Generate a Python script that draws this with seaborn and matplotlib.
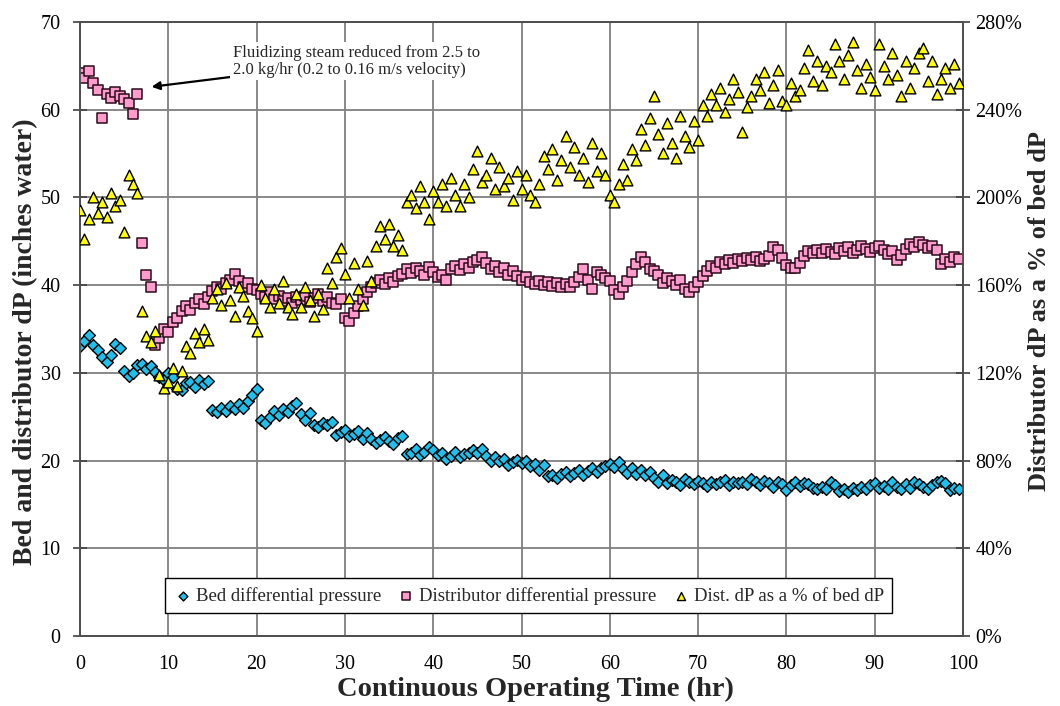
import numpy as np
import pandas as pd
import matplotlib
matplotlib.use("Agg")
import matplotlib.pyplot as plt
import seaborn as sns
from matplotlib.ticker import FuncFormatter

# ---------------- data ----------------
hours = np.arange(0, 100, 0.5)  # sampling times, hr

bed_dp = [
    33.0, 33.6, 34.3, 33.2, 32.6, 31.8, 31.2, 32.0, 33.3, 32.8,
    30.2, 29.6, 30.0, 30.9, 31.0, 30.4, 30.8, 30.1, 29.5, 29.2,
    30.0, 29.5, 28.2, 28.0, 28.8, 29.0, 28.4, 29.2, 28.7, 29.1,
    25.8, 25.5, 26.0, 25.6, 26.2, 25.9, 26.4, 26.0, 26.8, 27.5,
    28.1, 24.6, 24.3, 25.0, 25.6, 25.2, 25.9, 25.5, 26.2, 26.5,
    25.3, 24.6, 25.4, 24.0, 23.8, 24.3, 24.0, 24.4, 22.9, 23.3,
    23.5, 22.8, 23.0, 23.4, 22.5, 23.1, 22.4, 22.0, 22.3, 22.7,
    22.2, 21.9, 22.6, 22.8, 20.7, 20.9, 21.3, 20.6, 21.0, 21.5,
    21.2, 20.6, 20.9, 20.2, 20.5, 21.0, 20.4, 20.7, 20.9, 21.2,
    20.8, 21.3, 20.5, 20.0, 20.4, 19.9, 20.2, 19.5, 19.8, 20.1,
    19.7, 20.0, 19.4, 19.6, 18.9, 19.5, 18.2, 18.4, 18.0, 18.5,
    18.7, 18.2, 18.6, 18.9, 18.3, 18.8, 19.2, 18.7, 19.1, 19.4,
    19.6, 19.3, 19.8, 19.0, 18.6, 19.2, 18.5, 18.9, 18.3, 18.7,
    18.0, 17.6, 18.4, 17.4, 17.8, 17.5, 17.2, 17.9, 17.6, 17.3,
    17.7, 17.4, 17.1, 17.6, 17.3, 17.5, 17.8, 17.2, 17.5, 17.4,
    17.6, 17.3, 17.9, 17.5, 17.2, 17.7, 17.4, 17.0, 17.6, 17.3,
    16.6, 17.2, 17.5, 17.1, 17.4, 17.3, 16.9, 16.7, 17.0, 16.8,
    17.5, 17.2, 16.5, 16.8, 16.4, 16.9, 16.6, 17.0, 16.7, 17.2,
    17.4, 16.9, 17.1, 16.8, 17.5, 17.0, 16.7, 17.3, 16.9, 17.6,
    17.3, 17.0, 16.8, 17.2, 17.5, 17.7, 17.4, 16.6, 16.9, 16.8,
]

dist_dp = [
    64.2, 63.6, 64.4, 63.0, 62.2, 59.0, 61.8, 61.3, 62.0, 61.5,
    61.2, 60.8, 59.5, 61.8, 44.8, 41.2, 39.8, 33.2, 34.0, 35.0,
    34.6, 35.8, 36.3, 37.0, 37.6, 37.2, 38.0, 38.4, 37.8, 38.6,
    39.3, 39.8, 39.5, 40.2, 40.6, 41.3, 40.5, 39.8, 40.2, 39.6,
    39.4, 39.0, 38.6, 39.2, 38.4, 38.8, 38.2, 38.5, 38.0, 38.6,
    38.3, 38.8, 38.1, 38.5, 39.0, 38.2, 38.6, 38.0, 37.8, 38.4,
    36.3, 35.9, 36.8, 37.6, 38.4, 39.2, 39.8, 40.2, 40.6, 40.1,
    40.8, 40.4, 41.0, 41.3, 41.8, 41.4, 42.0, 41.6, 41.2, 42.1,
    41.5, 40.9, 41.2, 40.6, 41.8, 42.2, 41.7, 42.4, 42.0, 42.6,
    42.8, 43.2, 42.5, 41.8, 42.2, 41.5, 41.9, 41.2, 41.6, 41.0,
    40.6, 40.9, 40.3, 40.1, 40.5, 40.0, 40.3, 39.9, 40.2, 39.8,
    40.1, 39.8, 40.4, 40.9, 41.8, 40.6, 39.6, 41.5, 41.2, 40.8,
    40.5, 39.4, 39.0, 39.8, 40.5, 41.5, 42.4, 43.2, 42.6, 41.8,
    41.6, 41.2, 40.2, 40.8, 40.5, 40.0, 40.6, 39.6, 39.2, 39.8,
    40.4, 41.0, 41.6, 42.2, 42.0, 42.6, 42.4, 42.9, 42.5, 43.0,
    42.7, 43.1, 42.8, 43.2, 42.7, 43.0, 43.3, 44.3, 44.0, 43.1,
    42.3, 41.9, 42.0, 42.5, 43.3, 43.9, 43.6, 44.0, 43.7, 44.1,
    43.8, 43.5, 44.2, 43.9, 44.3, 43.6, 44.0, 44.4, 44.1, 43.8,
    44.2, 44.5, 44.0, 43.5, 43.9, 42.8, 43.4, 44.1, 44.7, 44.3,
    44.9, 44.6, 44.2, 44.5, 44.0, 42.4, 43.0, 42.6, 43.2, 43.0,
]

dist_pct = [
    194, 181, 190, 200, 193, 198, 191, 202, 196, 199,
    184, 210, 206, 202, 148, 137, 134, 139, 119, 113,
    116, 122, 114, 121, 132, 129, 138, 134, 140, 135,
    154, 158, 151, 161, 153, 146, 159, 155, 148, 145,
    139, 160, 154, 150, 158, 152, 162, 150, 147, 156,
    150, 159, 153, 146, 156, 149, 168, 161, 173, 177,
    165, 154, 170, 158, 151, 171, 162, 178, 187, 181,
    188, 178, 183, 176, 198, 201, 195, 205, 198, 190,
    203, 198, 206, 196, 209, 201, 196, 206, 200, 213,
    221, 207, 210, 218, 204, 214, 205, 209, 199, 212,
    204, 210, 201, 198, 206, 219, 213, 222, 208, 217,
    228, 214, 223, 210, 218, 207, 225, 212, 220, 210,
    201, 198, 206, 215, 208, 222, 217, 231, 224, 236,
    246, 229, 220, 234, 225, 218, 237, 228, 223, 235,
    226, 242, 237, 247, 242, 250, 239, 245, 254, 248,
    230, 241, 246, 254, 249, 257, 243, 251, 258, 244,
    242, 252, 246, 249, 259, 267, 253, 262, 251, 260,
    257, 270, 262, 254, 265, 271, 258, 250, 261, 255,
    249, 270, 260, 254, 266, 256, 246, 262, 250, 259,
    266, 268, 253, 262, 247, 254, 259, 250, 261, 252,
]

x_ticks = list(range(0, 101, 10))
left_ticks = list(range(0, 71, 10))
right_ticks = list(range(0, 281, 40))

df = pd.DataFrame({"hours": hours, "bed": bed_dp, "dist": dist_dp, "pct": dist_pct})

# ---------------- style ----------------
sns.set_style("white")
plt.rcParams["font.family"] = ["Liberation Serif", "DejaVu Serif"]

fig = plt.figure(figsize=(10.6, 7.06), dpi=100)
ax = fig.add_axes([0.0755, 0.0992, 0.833, 0.8698])
ax2 = ax.twinx()

grid_c = "#7f7f7f"
ax.set_xlim(0, 100)
ax.set_ylim(0, 70)
ax2.set_ylim(0, 280)
ax.set_xticks(x_ticks)
ax.set_yticks(left_ticks)
ax2.set_yticks(right_ticks)
ax2.yaxis.set_major_formatter(FuncFormatter(lambda v, p: f"{v:.0f}%"))
ax.grid(True, color=grid_c, linewidth=1.3)
ax.set_axisbelow(True)

sns.scatterplot(data=df, x="hours", y="bed", ax=ax, marker="D", s=36,
                color="#1fc0ec", edgecolor="black", linewidth=1.0,
                label="Bed differential pressure", legend=False, zorder=3)
sns.scatterplot(data=df, x="hours", y="dist", ax=ax, marker="s", s=56,
                color="#ff9ccd", edgecolor="#2a0a1a", linewidth=1.1,
                label="Distributor differential pressure", legend=False, zorder=3)
sns.scatterplot(data=df, x="hours", y="pct", ax=ax2, marker="^", s=60,
                color="#ffff00", edgecolor="black", linewidth=1.0,
                label="Dist. dP as a % of bed dP", legend=False, zorder=3)

for a in (ax, ax2):
    for sp in a.spines.values():
        sp.set_color("#505050")
        sp.set_linewidth(1.3)
    a.tick_params(axis="both", direction="inout", length=10, width=1.2,
                  color="#404040", labelsize=14.5, labelcolor="black")
ax.tick_params(axis="x", pad=9)
ax.tick_params(axis="y", pad=9)
ax2.tick_params(axis="y", pad=4)

ax.set_xlabel("Continuous Operating Time (hr)", fontsize=20.5, fontweight="bold")
ax.set_ylabel("Bed and distributor dP (inches water)", fontsize=20, fontweight="bold")
ax2.set_ylabel("Distributor dP as a % of bed dP", fontsize=19, fontweight="bold")
ax.xaxis.set_label_coords(0.516, -0.066)
ax.yaxis.set_label_coords(-0.047, 0.48)
ax2.yaxis.set_label_coords(1.074, 0.53)

# annotation
ax.annotate("Fluidizing steam reduced from 2.5 to\n2.0 kg/hr (0.2 to 0.16 m/s velocity)",
            xy=(8.1, 62.6), xytext=(17.3, 65.5), textcoords="data",
            ha="left", va="center", fontsize=12, linespacing=1.1,
            bbox=dict(boxstyle="square,pad=0.15", fc="white", ec="none"),
            arrowprops=dict(arrowstyle="-|>", color="black", lw=1.6,
                            shrinkA=0, shrinkB=0, mutation_scale=12),
            zorder=5)

h1, l1 = ax.get_legend_handles_labels()
h2, l2 = ax2.get_legend_handles_labels()
leg = ax2.legend(h1 + h2, l1 + l2, loc="lower left",
                 bbox_to_anchor=(0.096, 0.037, 0.824, 0.057), mode="expand",
                 borderaxespad=0, ncol=3, frameon=True, fancybox=False,
                 framealpha=1, edgecolor="black", fontsize=13.5,
                 handletextpad=0.2, borderpad=0.45, markerscale=0.75,
                 handlelength=1.0, columnspacing=2.0)
leg.get_frame().set_linewidth(1.0)
leg.set_zorder(10)

fig.savefig("out.png", dpi=100)
